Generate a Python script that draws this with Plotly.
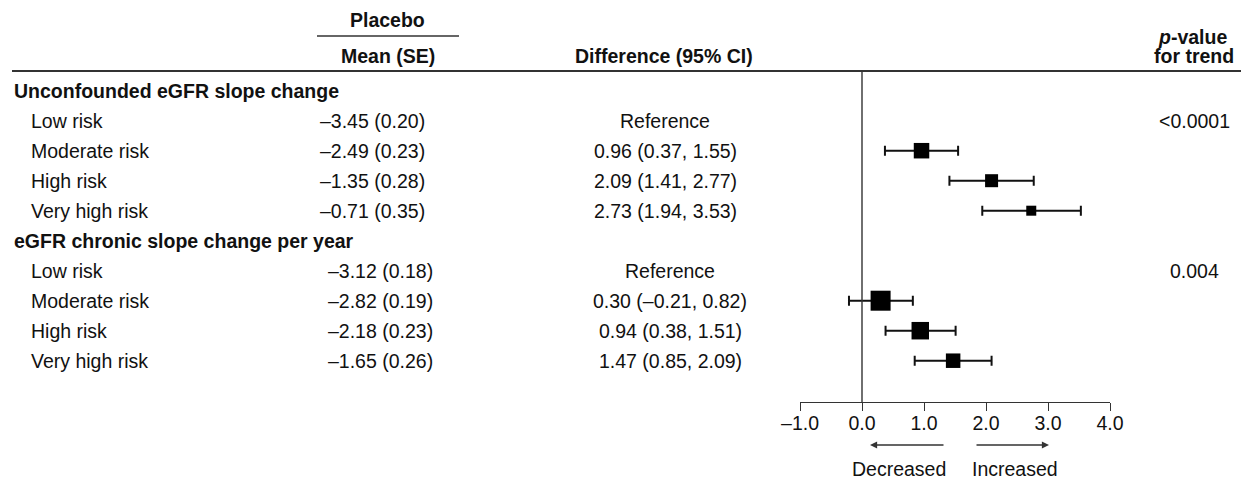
import plotly.graph_objects as go

# ---------------- data ----------------
group_labels = ["Unconfounded eGFR slope change", "eGFR chronic slope change per year"]
subgroup_labels = ["Low risk", "Moderate risk", "High risk", "Very high risk"]

placebo_mean_1 = [-3.45, -2.49, -1.35, -0.71]
placebo_se_1 = [0.20, 0.23, 0.28, 0.35]
placebo_mean_2 = [-3.12, -2.82, -2.18, -1.65]
placebo_se_2 = [0.18, 0.19, 0.23, 0.26]

diff_1 = [None, 0.96, 2.09, 2.73]
lower_1 = [None, 0.37, 1.41, 1.94]
upper_1 = [None, 1.55, 2.77, 3.53]
diff_2 = [None, 0.30, 0.94, 1.47]
lower_2 = [None, -0.21, 0.38, 0.85]
upper_2 = [None, 0.82, 1.51, 2.09]

p_trend = ["<0.0001", "0.004"]

tick_values = [-1.0, 0.0, 1.0, 2.0, 3.0, 4.0]

# ---------------- styles ----------------
W, H = 1249, 485
OFF = 8             # page offset of the plot div (default body margin)
FONT = "Liberation Sans, Arial, Helvetica, sans-serif"
FS = 19.5
TXT = "#111111"
LINE = "#333333"
marker_sizes_1 = [0, 15.5, 13, 10]
marker_sizes_2 = [0, 20, 17.5, 14.5]

ROW0_PX = 90.7      # screen y of first row
ROW_PX = 30.0       # spacing between rows
AXIS_PX = 402       # screen y of the forest x axis
AX_X0, AX_X1 = 800, 1110   # screen x of -1 and 4


def fmt(v, nd=2):
    s = f"{v:.{nd}f}"
    return s.replace("-", "\u2013")


groups = [
    dict(label=group_labels[0], mean=placebo_mean_1, se=placebo_se_1, d=diff_1, lo=lower_1, hi=upper_1,
         sizes=marker_sizes_1, p=p_trend[0], mean_x=372, diff_x=665),
    dict(label=group_labels[1], mean=placebo_mean_2, se=placebo_se_2, d=diff_2, lo=lower_2, hi=upper_2,
         sizes=marker_sizes_2, p=p_trend[1], mean_x=380, diff_x=670),
]

fig = go.Figure()
annotations = []


def ann(text, x, y, xanchor="center", yref="y", bold=False, size=FS, **kw):
    if bold:
        text = f"<b>{text}</b>"
    annotations.append(dict(text=text, x=x, y=y, xref="x2", yref=yref, xanchor=xanchor,
                            yanchor="middle", showarrow=False,
                            font=dict(family=FONT, size=size, color=TXT), **kw))


row = 0
for g in groups:
    ann(g["label"], 12, row, xanchor="left", bold=True)
    ys, xs, ep, em, sz = [], [], [], [], []
    for i, name in enumerate(subgroup_labels):
        r = row + 1 + i
        ann(name, 29, r, xanchor="left")
        ann(f"{fmt(g['mean'][i])} ({fmt(g['se'][i])})", g["mean_x"], r)
        if g["d"][i] is None:
            ann("Reference", g["diff_x"], r)
            ann(g["p"], 1194, r)
        else:
            ann(f"{fmt(g['d'][i])} ({fmt(g['lo'][i])}, {fmt(g['hi'][i])})", g["diff_x"], r)
            ys.append(r)
            xs.append(g["d"][i])
            ep.append(g["hi"][i] - g["d"][i])
            em.append(g["d"][i] - g["lo"][i])
            sz.append(g["sizes"][i])
    fig.add_trace(go.Scatter(
        x=xs, y=ys, mode="markers", xaxis="x", yaxis="y", opacity=1,
        marker=dict(symbol="square", size=sz, color="#000000", opacity=1, line=dict(width=0)),
        error_x=dict(type="data", symmetric=False, array=ep, arrayminus=em,
                     thickness=2, width=5, color="#111111"),
        hoverinfo="skip", showlegend=False, cliponaxis=False))
    row += 1 + len(subgroup_labels)

ann("Placebo", 387.5, 20, yref="y2", bold=True)
ann("Mean (SE)", 387.5, 56, yref="y2", bold=True)
ann("Difference (95% CI)", 664, 56, yref="y2", bold=True)
ann("<i>p</i>-value", 1192, 37, yref="y2", bold=True)
ann("for trend", 1194, 56, yref="y2", bold=True)
ann("Decreased", 899, 469, yref="y2")
ann("Increased", 1015, 469, yref="y2")

for head, tail in [(870, 945), (1049, 975)]:
    annotations.append(dict(x=head, y=445, ax=tail, ay=445, xref="x2", yref="y2",
                            axref="x2", ayref="y2", text="", showarrow=True,
                            arrowhead=2, arrowsize=1.1, arrowwidth=1.3, arrowcolor=LINE))

shapes = [
    dict(type="line", xref="x2", yref="y2", x0=12, x1=1249, y0=71, y1=71,
         line=dict(color=LINE, width=1.8)),
    dict(type="line", xref="x2", yref="y2", x0=317, x1=459, y0=36, y1=36,
         line=dict(color=LINE, width=1.5)),
    dict(type="line", xref="x", yref="y2", x0=0, x1=0, y0=71, y1=AXIS_PX,
         line=dict(color=LINE, width=1.4)),
]

# row axis: screen pixel OFF at top, H+OFF at bottom
y_top = (OFF - ROW0_PX) / ROW_PX
y_bot = (H + OFF - ROW0_PX) / ROW_PX

fig.update_layout(
    width=W, height=H,
    margin=dict(l=0, r=0, t=0, b=0, autoexpand=False),
    paper_bgcolor="white", plot_bgcolor="rgba(0,0,0,0)",
    font=dict(family=FONT, size=FS, color=TXT),
    showlegend=False,
    annotations=annotations,
    shapes=shapes,
    xaxis=dict(domain=[(AX_X0 - OFF) / W, (AX_X1 - OFF) / W], range=[-1, 4], anchor="free",
               position=1 - (AXIS_PX - OFF) / H, showgrid=False, zeroline=False,
               automargin=False,
               showline=True, linecolor=LINE, linewidth=1.4,
               ticks="outside", ticklen=8, tickwidth=1.4, tickcolor=LINE,
               ticklabelstandoff=-5,
               tickvals=tick_values, ticktext=[fmt(v, 1) for v in tick_values],
               tickfont=dict(family=FONT, size=FS, color=TXT), fixedrange=True),
    yaxis=dict(domain=[0, 1], range=[y_bot, y_top], visible=False, fixedrange=True,
               automargin=False),
    xaxis2=dict(domain=[0, 1], range=[OFF, W + OFF], visible=False, anchor="y2",
                fixedrange=True, automargin=False),
    yaxis2=dict(domain=[0, 1], range=[H + OFF, OFF], visible=False, anchor="x2",
                fixedrange=True, automargin=False),
)
fig.add_trace(go.Scatter(x=[None], y=[None], xaxis="x2", yaxis="y2", showlegend=False,
                         hoverinfo="skip"))

fig.write_html("out.html")
